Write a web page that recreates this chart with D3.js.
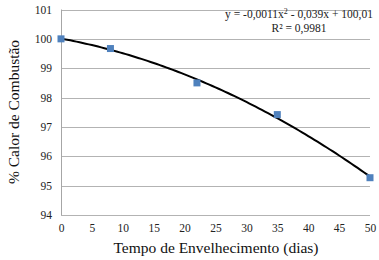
<!DOCTYPE html>
<html>
<head>
<meta charset="utf-8">
<script src="https://cdn.jsdelivr.net/npm/d3@7"></script>
<style>
  body { margin: 0; background: #fff; }
</style>
</head>
<body>
<svg id="chart" width="379" height="260" font-family="Liberation Serif"></svg>
<script>
// data
var days = [0, 8, 22, 35, 50];
var calor = [100, 99.67, 98.5, 97.42, 95.27];
var xTicks = [0, 5, 10, 15, 20, 25, 30, 35, 40, 45, 50];
var yTicks = [94, 95, 96, 97, 98, 99, 100, 101];
// trendline coefficients (a x^2 + b x + c), as printed on the chart
var trendCoef = [-0.0011, -0.039, 100.01];
var eqText = ["y = -0,0011x", "2", " - 0,039x + 100,01"];
var r2Text = "R² = 0,9981";

var FONT = "Liberation Serif";

var svg = d3.select("#chart"),
    M = { top: 9.5, right: 9, bottom: 45, left: 61 },
    W = 379, H = 260;

var x = d3.scaleLinear().domain([0, 50]).range([M.left, W - M.right]);
var y = d3.scaleLinear().domain([94, 101]).range([H - M.bottom, M.top]);

// gridlines
svg.append("g").selectAll("line")
  .data(yTicks)
  .enter().append("line")
  .attr("x1", M.left).attr("x2", W - M.right)
  .attr("y1", function(d) { return Math.round(y(d)) + 0.5; })
  .attr("y2", function(d) { return Math.round(y(d)) + 0.5; })
  .attr("stroke", "#b3b3b3").attr("stroke-width", 1);

// left axis line
svg.append("line")
  .attr("x1", M.left + 0.5).attr("x2", M.left + 0.5)
  .attr("y1", y(101)).attr("y2", y(94))
  .attr("stroke", "#a6a6a6");

// y tick labels
var yAxis = d3.axisLeft(y).tickValues(yTicks).tickSize(0).tickPadding(9).tickFormat(d3.format("d"));
var gy = svg.append("g").attr("transform", "translate(" + M.left + ",0)").call(yAxis)
  .attr("font-family", FONT).attr("font-size", 11.5);
gy.select(".domain").remove();
gy.selectAll("text").attr("fill", "#222");

// x tick labels
var xAxis = d3.axisBottom(x).tickValues(xTicks).tickSize(0).tickPadding(9).tickFormat(d3.format("d"));
var gx = svg.append("g").attr("transform", "translate(0," + y(94) + ")").call(xAxis)
  .attr("font-family", FONT).attr("font-size", 11.5);
gx.select(".domain").remove();
gx.selectAll("text").attr("fill", "#222");

// trendline
var xs = d3.range(0, 50.01, 0.5);
var line = d3.line()
  .x(function(d) { return x(d); })
  .y(function(d) { return y(trendCoef[0] * d * d + trendCoef[1] * d + trendCoef[2]); });
svg.append("path")
  .datum(xs)
  .attr("d", line)
  .attr("fill", "none").attr("stroke", "#000").attr("stroke-width", 2);

// markers
svg.append("g").selectAll("rect")
  .data(days)
  .enter().append("rect")
  .attr("x", function(d) { return x(d) - 3.5; })
  .attr("y", function(d, i) { return y(calor[i]) - 3.5; })
  .attr("width", 7).attr("height", 7)
  .attr("fill", "#4f81bd");

// equation
var eq = svg.append("text").attr("x", 299).attr("y", 18)
  .attr("font-family", FONT)
  .attr("text-anchor", "middle").attr("font-size", 11.5).attr("fill", "#222");
eq.append("tspan").text(eqText[0]);
eq.append("tspan").attr("dy", -4).attr("font-size", 8).text(eqText[1]);
eq.append("tspan").attr("dy", 4).text(eqText[2]);
svg.append("text").attr("x", 299).attr("y", 32)
  .attr("font-family", FONT)
  .attr("text-anchor", "middle").attr("font-size", 11.5).attr("fill", "#222")
  .text(r2Text);

// axis titles
svg.append("text")
  .attr("x", 216).attr("y", 253)
  .attr("font-family", FONT)
  .attr("text-anchor", "middle").attr("font-size", 15.5).attr("fill", "#111")
  .text("Tempo de Envelhecimento (dias)");
svg.append("text")
  .attr("transform", "translate(19," + 112 + ") rotate(-90)")
  .attr("font-family", FONT)
  .attr("text-anchor", "middle").attr("font-size", 15.5).attr("fill", "#111")
  .text("% Calor de Combustão");
</script>
</body>
</html>
